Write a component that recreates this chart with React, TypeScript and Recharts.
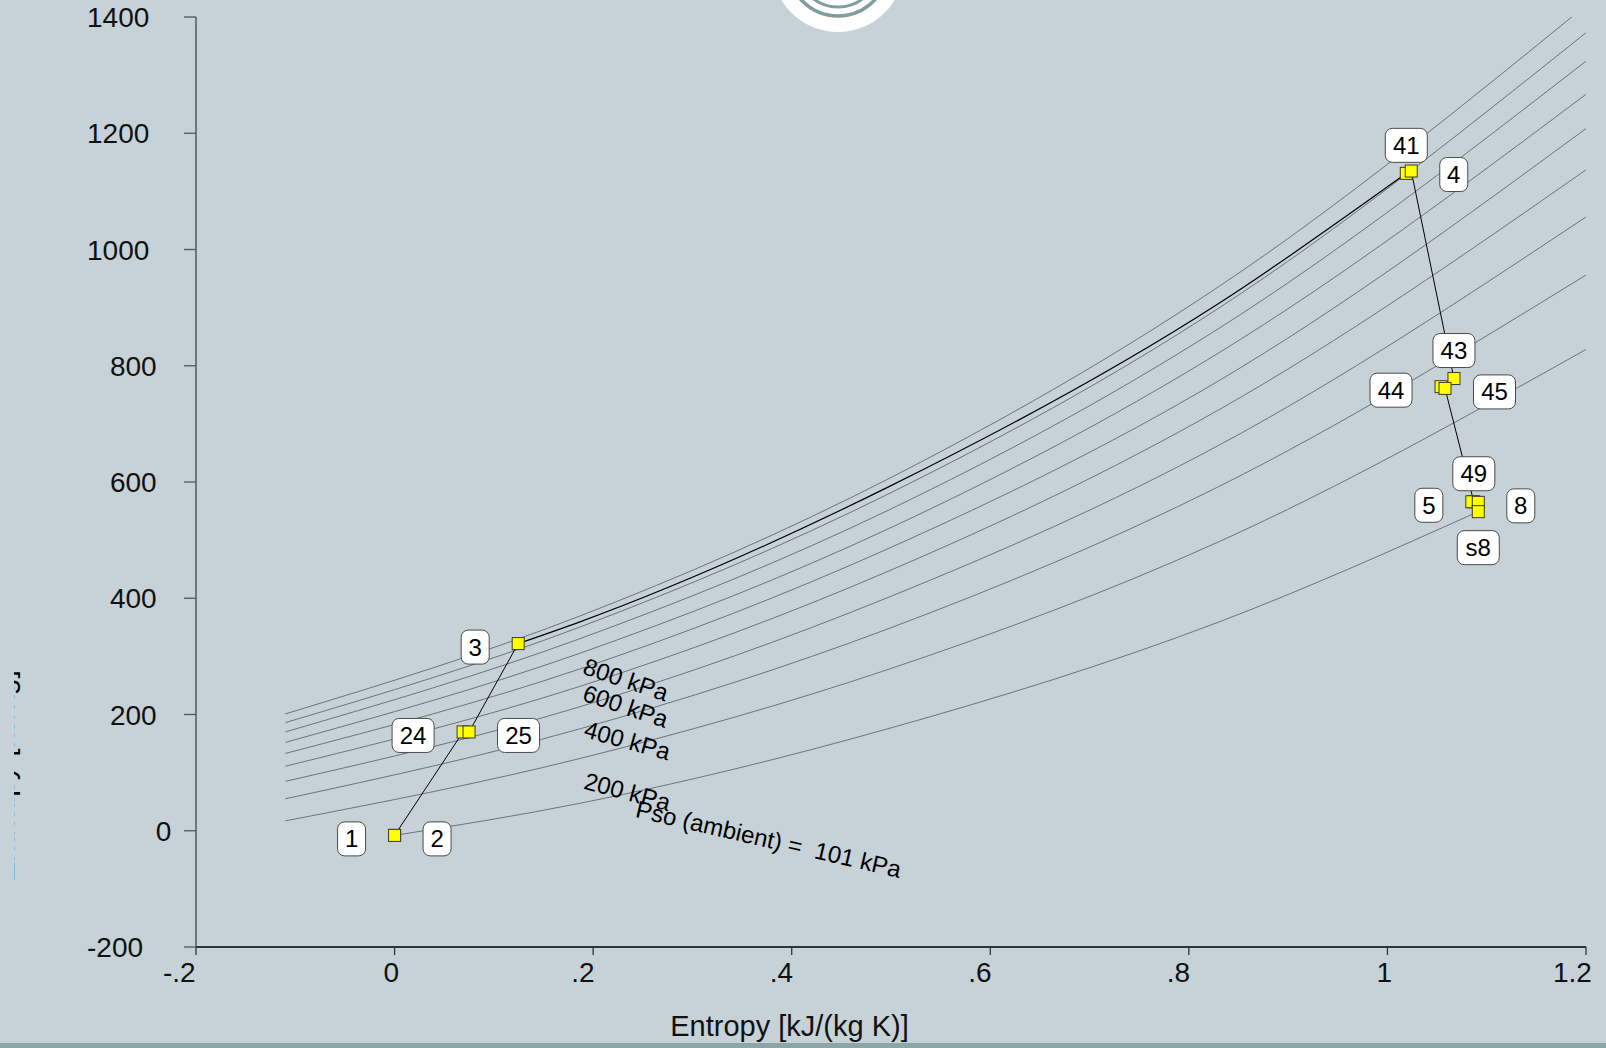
import React from 'react';
import { ComposedChart, Line, Scatter, XAxis, YAxis } from 'recharts';

const FONT = '"Liberation Sans", Arial, sans-serif';
const BG = '#c6d1d8';
const ISOBAR = '#6c7479';

// entropy [kJ/(kg K)] where the isobars were read
const sIsobar = [-0.11, 0.186, 0.498, 0.83, 1.2];
const sAmbient = [0, 0.186, 0.498, 0.83, 1.0915];

// enthalpy [kJ/kg] of each isobar at those entropies
const h1000 = [201, 369, 606, 936, 1420];
const h900 = [186, 350, 580, 899, 1373];
const h800 = [170, 330, 552, 864, 1324];
const h700 = [152, 305, 520, 822, 1267];
const h600 = [133, 278, 486, 774, 1208];
const h500 = [111, 248, 447, 724, 1137];
const h400 = [85, 213, 402, 663, 1056];
const h300 = [55, 175, 348, 592, 956];
const h200 = [17, 124, 278, 497, 828];
const h101 = [-8, 47, 176, 359, 549];

// state points
const stateNames = ['1', '2', '24', '25', '3', '41', '4', '43', '44', '45', '49', '5', '8', 's8'];
const stateS = [0, 0, 0.069, 0.075, 0.1245, 1.019, 1.024, 1.067, 1.054, 1.058, 1.087, 1.085, 1.0915, 1.0915];
const stateH = [-8, -8, 170, 170, 322, 1131, 1135, 778, 764, 761, 566, 566, 565, 549];

// process path
const compressionS = [0, 0.069, 0.075, 0.1245];
const compressionH = [-8, 170, 170, 322];
const heatingS = [0.1245, 0.186, 0.498, 0.83, 1.019];
const heatingH = [322, 359, 592, 907, 1131];
const expansionS = [1.019, 1.024, 1.067, 1.054, 1.058, 1.087, 1.085, 1.0915];
const expansionH = [1131, 1135, 778, 764, 761, 566, 566, 565];

// isobar captions
const captionText = ['800 kPa', '600 kPa', '400 kPa', '200 kPa', 'Pso (ambient) =\u00a0 101 kPa'];
const captionS = [0.1882, 0.1879, 0.1895, 0.1895, 0.2416];
const captionH = [270.6, 224.7, 161.5, 72.8, 23.9];
const captionAngle = [18.5, 18.5, 15.5, 15, 13];

const xTicks = [-0.2, 0, 0.2, 0.4, 0.6, 0.8, 1, 1.2];
const xTickLabels = ['-.2', '0', '.2', '.4', '.6', '.8', '1', '1.2'];
const yTicks = [-200, 0, 200, 400, 600, 800, 1000, 1200, 1400];

const pts = (s: number[], h: number[]) => s.map((v, i) => ({ s: v, h: h[i] }));

const isobars = [h1000, h900, h800, h700, h600, h500, h400, h300, h200].map((h) => pts(sIsobar, h));
const ambient = pts(sAmbient, h101);
const states = stateNames.map((name, i) => ({ name, s: stateS[i], h: stateH[i] }));
const captions = captionText.map((text, i) => ({ text, angle: captionAngle[i], s: captionS[i], h: captionH[i] }));

const labelSide: Record<string, string> = {
  '1': 'left', '2': 'right', '24': 'left', '25': 'right', '3': 'left',
  '41': 'above', '4': 'right', '43': 'above', '44': 'left', '45': 'right',
  '49': 'above', '5': 'left', '8': 'right', 's8': 'below',
};

const XTick = (props: any) => {
  const { x, y, payload } = props;
  const i = xTicks.findIndex((t) => Math.abs(t - payload.value) < 1e-6);
  const label = xTickLabels[i] ?? '';
  return (
    <text x={x - 11 * label.length} y={y + 27} fontSize={28} fontFamily={FONT} fill="#111">
      {label}
    </text>
  );
};

const YTick = (props: any) => {
  const { x, y, payload } = props;
  const label = String(payload.value);
  return (
    <text x={x - 5.4 - 22.9 * label.length} y={y + 10} fontSize={28} fontFamily={FONT} fill="#111">
      {label}
    </text>
  );
};

const StateMarker = (props: any) => {
  const { cx, cy } = props;
  if (cx == null || cy == null) return <g />;
  return <rect x={cx - 6} y={cy - 6} width={12} height={12} fill="#ffff00" stroke="#3b3b2e" strokeWidth={1} />;
};

const StateLabel = (props: any) => {
  const { cx, cy } = props;
  if (cx == null || cy == null) return <g />;
  const name: string = props.payload?.name ?? props.name;
  const w = name.length > 1 ? 42 : 28;
  const h = 34;
  const side = labelSide[name];
  let bx = cx - w / 2;
  let by = cy - 11 - h;
  if (side === 'left') {
    bx = cx - 29 - w;
    by = cy + 3.5 - h / 2;
  } else if (side === 'right') {
    bx = cx + 28.5;
    by = cy + 3.5 - h / 2;
  } else if (side === 'below') {
    by = cy + 19;
  }
  return (
    <g>
      <rect x={bx} y={by} width={w} height={h} rx={7} fill="#ffffff" stroke="#4a4a4a" strokeWidth={1} />
      <text x={bx + w / 2} y={by + h / 2 + 8.5} textAnchor="middle" fontSize={24} fontFamily={FONT} fill="#000">
        {name}
      </text>
    </g>
  );
};

const Caption = (props: any) => {
  const { cx, cy } = props;
  if (cx == null || cy == null) return <g />;
  const p = props.payload ?? props;
  return (
    <text
      x={cx}
      y={cy}
      transform={`rotate(${p.angle} ${cx} ${cy})`}
      fontSize={24}
      fontFamily={FONT}
      fill="#000"
    >
      {p.text}
    </text>
  );
};

export default function App() {
  return (
    <div style={{ position: 'absolute', left: 0, top: 0, width: 1606, height: 1048, background: BG, overflow: 'hidden' }}>
      <ComposedChart width={1606} height={1048} margin={{ top: 17, right: 20, left: 0, bottom: 0 }}>
        <XAxis
          type="number"
          dataKey="s"
          domain={[-0.2, 1.2]}
          ticks={xTicks}
          interval={0}
          height={101}
          tickSize={8}
          tickMargin={0}
          tick={<XTick />}
          axisLine={{ stroke: '#2f3437', strokeWidth: 2 }}
          tickLine={{ stroke: '#2f3437', strokeWidth: 1.3 }}
        />
        <YAxis
          type="number"
          dataKey="h"
          domain={[-200, 1400]}
          ticks={yTicks}
          interval={0}
          allowDataOverflow
          width={196}
          tickSize={12}
          tickMargin={0}
          tick={<YTick />}
          axisLine={{ stroke: '#50575b', strokeWidth: 1.5 }}
          tickLine={{ stroke: '#50575b', strokeWidth: 1.3 }}
        />
        {isobars.map((d, i) => (
          <Line
            key={`iso${i}`}
            data={d}
            dataKey="h"
            type="monotone"
            stroke={ISOBAR}
            strokeWidth={1}
            dot={false}
            activeDot={false}
            isAnimationActive={false}
          />
        ))}
        <Line data={ambient} dataKey="h" type="monotone" stroke={ISOBAR} strokeWidth={1} dot={false} activeDot={false} isAnimationActive={false} />
        <Line data={pts(compressionS, compressionH)} dataKey="h" type="linear" stroke="#000" strokeWidth={1} dot={false} activeDot={false} isAnimationActive={false} />
        <Line data={pts(heatingS, heatingH)} dataKey="h" type="monotone" stroke="#000" strokeWidth={1.2} dot={false} activeDot={false} isAnimationActive={false} />
        <Line data={pts(expansionS, expansionH)} dataKey="h" type="linear" stroke="#000" strokeWidth={1} dot={false} activeDot={false} isAnimationActive={false} />
        <Scatter data={captions} dataKey="h" shape={<Caption />} isAnimationActive={false} />
        <Scatter data={states} dataKey="h" shape={<StateMarker />} isAnimationActive={false} />
        <Scatter data={states} dataKey="h" shape={<StateLabel />} isAnimationActive={false} />
      </ComposedChart>
      <svg width={1606} height={1048} style={{ position: 'absolute', left: 0, top: 0, pointerEvents: 'none' }}>
        <defs>
          <clipPath id="ylabelClip">
            <rect x={14} y={0} width={40} height={1048} />
          </clipPath>
        </defs>
        <g clipPath="url(#ylabelClip)">
          <text
            x={0}
            y={0}
            transform="translate(14 776) rotate(-90)"
            fontSize={30}
            fontFamily={FONT}
            fill="#000"
            textAnchor="middle"
          >
            Enthalpy [kJ/kg]
          </text>
        </g>
        <circle cx={838} cy={-34} r={66} fill="#ffffff" />
        <circle cx={838} cy={-34} r={50} fill="none" stroke="#7f9d9b" strokeWidth={3.5} />
        <circle cx={838} cy={-34} r={41} fill="none" stroke="#7f9d9b" strokeWidth={3} />
        <text x={789.5} y={1036} textAnchor="middle" fontSize={29} fontFamily={FONT} fill="#111">
          Entropy [kJ/(kg K)]
        </text>
        <rect x={0} y={1043} width={1606} height={5} fill="#8ba6a6" />
      </svg>
    </div>
  );
}
